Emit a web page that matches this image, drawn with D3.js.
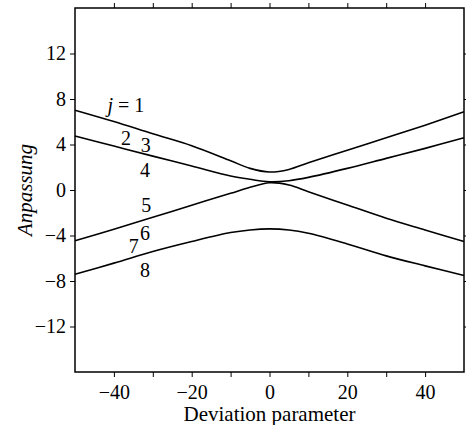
<!DOCTYPE html>
<html>
<head>
<meta charset="utf-8">
<style>
  body { margin: 0; background: #fff; }
  svg text { font-family: "Liberation Serif", "DejaVu Serif", serif; fill: #000; }
</style>
</head>
<body>
<svg id="chart"></svg>
<script src="https://cdn.jsdelivr.net/npm/d3@7"></script>
<script>
// deviation parameter values where the curves were read
var devX = [-50, -40, -30, -20, -10, -5, 0, 5, 10, 20, 30, 40, 50];

// Anpassung for each branch
var branch1 = [7.02, 6.02, 4.94, 3.89, 2.57, 1.90, 1.58, 1.81, 2.39, 3.50, 4.59, 5.70, 6.87];
var branch2 = [4.74, 3.86, 2.98, 2.11, 1.23, 0.94, 0.73, 0.82, 1.11, 1.90, 2.78, 3.66, 4.59];
var branch3 = [-4.47, -3.45, -2.40, -1.34, -0.29, 0.24, 0.64, 0.44, -0.15, -1.32, -2.48, -3.51, -4.53];
var branch4 = [-7.40, -6.43, -5.41, -4.53, -3.74, -3.51, -3.42, -3.51, -3.80, -4.74, -5.79, -6.67, -7.52];

var xTicks = [-40, -20, 0, 20, 40];
var xMinorTicks = [-40, -30, -20, -10, 0, 10, 20, 30, 40];
var yTicks = [-12, -8, -4, 0, 4, 8, 12];

// curve labels j = 1..8
var labelText = ["j = 1", "2", "3", "4", "5", "6", "7", "8"];
var labelX = [-36.9, -36.9, -31.8, -32, -31.7, -32, -34.9, -32];
var labelY = [6.84, 3.95, 3.33, 1.14, -1.93, -4.39, -5.53, -7.63];

var width = 466, height = 425;
var margin = {left: 75, right: 2, top: 8, bottom: 53};

var svg = d3.select("#chart").attr("width", width).attr("height", height);

var x = d3.scaleLinear().domain([-50, 50]).range([margin.left, width - margin.right]);
var y = d3.scaleLinear().domain([-16, 16]).range([height - margin.bottom, margin.top]);

// frame
svg.append("rect")
    .attr("x", x(-50)).attr("y", y(16))
    .attr("width", x(50) - x(-50)).attr("height", y(-16) - y(16))
    .attr("fill", "none").attr("stroke", "#000").attr("stroke-width", 1.5);

// bottom axis
var xAxis = svg.append("g")
    .attr("transform", "translate(0," + y(-16) + ")")
    .call(d3.axisBottom(x).tickValues(xMinorTicks).tickSize(5).tickSizeOuter(0)
        .tickFormat(function(d) { return xTicks.indexOf(d) >= 0 ? d3.format("d")(d) : ""; }));
xAxis.select(".domain").remove();
xAxis.selectAll("text").attr("dy", "0.95em").style("font-size", "20px");

// top ticks
var xTop = svg.append("g")
    .attr("transform", "translate(0," + y(16) + ")")
    .call(d3.axisTop(x).tickValues(xMinorTicks).tickSize(5).tickFormat(""));
xTop.select(".domain").remove();

// left axis
var yAxis = svg.append("g")
    .attr("transform", "translate(" + x(-50) + ",0)")
    .call(d3.axisLeft(y).tickValues(yTicks).tickSize(5).tickPadding(4).tickFormat(d3.format("d")));
yAxis.select(".domain").remove();
yAxis.selectAll("text").style("font-size", "20px");

// right ticks
var yRight = svg.append("g")
    .attr("transform", "translate(" + x(50) + ",0)")
    .call(d3.axisRight(y).tickValues(yTicks).tickSize(4).tickFormat(""));
yRight.select(".domain").remove();

svg.selectAll(".tick line").attr("stroke", "#000").attr("stroke-width", 1);

// curves
var line = d3.line()
    .x(function(d) { return x(d[0]); })
    .y(function(d) { return y(d[1]); })
    .curve(d3.curveCatmullRom.alpha(0.5));

var branches = [branch1, branch2, branch3, branch4];
svg.selectAll("path.branch")
    .data(branches)
    .enter().append("path")
    .attr("class", "branch")
    .attr("d", function(b) { return line(devX.map(function(v, i) { return [v, b[i]]; })); })
    .attr("fill", "none")
    .attr("stroke", "#000")
    .attr("stroke-width", 1.6);

// labels
svg.selectAll("text.lab")
    .data(labelText)
    .enter().append("text")
    .attr("class", "lab")
    .attr("x", function(d, i) { return x(labelX[i]); })
    .attr("y", function(d, i) { return y(labelY[i]); })
    .attr("text-anchor", "middle")
    .style("font-size", "20px")
    .each(function(d) {
        var t = d3.select(this);
        if (d.indexOf("j") === 0) {
            t.append("tspan").style("font-style", "italic").text("j");
            t.append("tspan").text(" = 1");
        } else {
            t.text(d);
        }
    });

// axis titles
svg.append("text")
    .attr("x", x(0)).attr("y", 421)
    .attr("text-anchor", "middle")
    .style("font-size", "21px")
    .text("Deviation parameter");

svg.append("text")
    .attr("transform", "translate(32," + y(0) + ") rotate(-90)")
    .attr("text-anchor", "middle")
    .style("font-size", "21px")
    .style("font-style", "italic")
    .text("Anpassung");
</script>
</body>
</html>
